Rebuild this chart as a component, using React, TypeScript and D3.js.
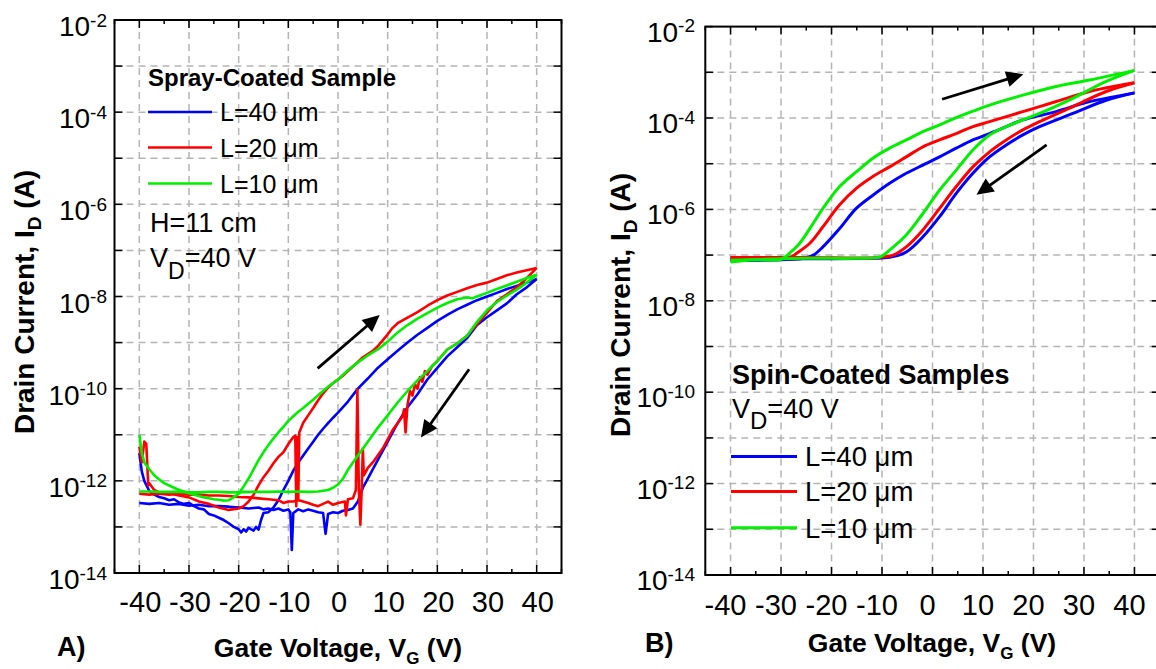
import React from 'react';
import * as d3 from 'd3';

type Pt = [number, number];

// ---------------- Spray-coated sample (panel A) ----------------
const sprayL40Fwd: Pt[] = [
  [-40, 3.98e-12], [-39.5, 1.58e-12], [-39, 1.0e-12], [-38, 6.03e-13], [-37, 5.01e-13], [-36, 4.47e-13],
  [-35, 4.17e-13], [-34, 3.8e-13], [-33, 3.98e-13], [-32, 3.39e-13], [-31, 3.16e-13], [-30, 3.31e-13],
  [-29, 2.82e-13], [-28, 2.51e-13], [-27, 2.4e-13], [-26, 1.91e-13], [-25, 1.78e-13], [-24, 1.58e-13],
  [-23, 1.41e-13], [-22, 1.2e-13], [-21, 1.0e-13], [-20, 8.91e-14], [-19.5, 7.59e-14], [-19, 8.91e-14],
  [-18.5, 7.94e-14], [-18, 9.55e-14], [-17, 8.32e-14], [-16.5, 1.0e-13], [-16, 8.71e-14], [-15.5, 1.41e-13],
  [-15, 2.0e-13], [-14, 2.09e-13], [-13, 2.63e-13], [-12, 3.8e-13], [-11, 6.31e-13], [-10, 1.0e-12],
  [-9, 1.66e-12], [-8, 2.51e-12], [-7, 3.55e-12], [-6, 5.01e-12], [-5, 7.08e-12], [-4, 1.0e-11],
  [-3, 1.35e-11], [-2, 1.78e-11], [-1, 2.34e-11], [0, 3.02e-11], [2, 5.25e-11], [4, 1.0e-10],
  [6, 1.66e-10], [8, 2.82e-10], [10, 4.37e-10], [12, 6.61e-10], [14, 1.0e-9], [16, 1.48e-9],
  [18, 2.09e-9], [20, 2.95e-9], [22, 3.98e-9], [24, 5.25e-9], [26, 6.61e-9], [28, 8.32e-9],
  [30, 1.0e-8], [32, 1.2e-8], [34, 1.45e-8], [36, 1.7e-8], [38, 2.0e-8], [40, 2.4e-8],
];
const sprayL40Rev: Pt[] = [
  [40, 2.4e-8], [38, 1.58e-8], [36, 1.12e-8], [34, 7.08e-9], [32, 5.01e-9], [30, 3.55e-9], [28, 2.4e-9],
  [26, 1.26e-9], [24, 7.94e-10], [22, 5.01e-10], [20, 2.82e-10], [18, 1.58e-10], [16, 7.59e-11],
  [14, 3.98e-11], [12, 1.78e-11], [10, 7.08e-12], [8, 2.82e-12], [6, 1.12e-12], [5, 7.08e-13],
  [4, 3.55e-13], [3, 2.51e-13], [2, 2.34e-13], [1, 2.24e-13], [0, 2.0e-13], [-1, 2.09e-13],
  [-2, 1.91e-13], [-2.5, 7.08e-14], [-3, 2.0e-13], [-4, 2.09e-13], [-5, 2.24e-13], [-6, 2.4e-13],
  [-7, 2.19e-13], [-8, 2.4e-13], [-9, 2.0e-13], [-9.3, 3.16e-14], [-9.6, 2.09e-13], [-10, 2.4e-13],
  [-11, 2.24e-13], [-12, 2.51e-13], [-13, 2.34e-13], [-14, 2.51e-13], [-15, 2.4e-13], [-16, 2.63e-13],
  [-18, 2.51e-13], [-20, 2.63e-13], [-22, 2.75e-13], [-24, 2.82e-13], [-26, 2.82e-13], [-28, 3.02e-13],
  [-30, 2.88e-13], [-32, 3.16e-13], [-34, 3.02e-13], [-36, 3.31e-13], [-38, 3.16e-13], [-40, 3.31e-13],
];
const sprayL20Fwd: Pt[] = [
  [-40, 5.5e-12], [-39.5, 2.51e-12], [-39, 7.08e-12], [-38.6, 6.31e-12], [-38.2, 7.94e-13], [-38, 8.91e-13],
  [-37, 6.31e-13], [-36, 5.62e-13], [-34, 5.37e-13], [-32, 4.79e-13], [-30, 4.37e-13], [-28, 3.55e-13],
  [-26, 3.16e-13], [-24, 2.63e-13], [-22, 2.34e-13], [-20, 2.51e-13], [-19, 2.82e-13], [-18, 3.55e-13],
  [-17, 5.01e-13], [-16, 7.94e-13], [-15, 1.2e-12], [-14, 1.66e-12], [-13, 2.4e-12], [-12, 3.31e-12],
  [-11, 4.17e-12], [-10, 6.31e-12], [-9, 8.91e-12], [-8.6, 9.55e-12], [-8.4, 2.82e-13], [-8.2, 8.91e-12],
  [-8, 3.98e-13], [-7.8, 1.12e-11], [-7, 1.82e-11], [-6, 2.63e-11], [-5, 3.8e-11], [-4, 5.62e-11],
  [-3, 7.94e-11], [-2, 1.05e-10], [-1, 1.32e-10], [0, 1.58e-10], [1, 1.91e-10], [2, 2.4e-10],
  [3, 3.02e-10], [4, 3.8e-10], [5, 4.79e-10], [6, 5.62e-10], [7, 6.61e-10], [8, 8.32e-10], [9, 1.12e-9],
  [10, 1.51e-9], [11, 2.09e-9], [12, 2.63e-9], [14, 3.47e-9], [16, 4.57e-9], [18, 6.31e-9], [20, 8.32e-9],
  [22, 1.05e-8], [24, 1.26e-8], [26, 1.51e-8], [28, 1.78e-8], [30, 2.0e-8], [32, 2.4e-8], [34, 2.88e-8],
  [36, 3.31e-8], [38, 3.72e-8], [40, 4.17e-8],
];
const sprayL20Rev: Pt[] = [
  [40, 4.17e-8], [38, 2.51e-8], [36, 1.58e-8], [34, 1.12e-8], [32, 7.94e-9], [30, 4.47e-9], [28, 2.51e-9],
  [26, 1.41e-9], [24, 9.55e-10], [22, 7.08e-10], [20, 3.98e-10], [19, 3.16e-10], [18, 2.0e-10],
  [17.5, 2.4e-10], [17, 1.41e-10], [16.5, 1.78e-10], [16, 1.0e-10], [15.5, 1.26e-10], [15, 7.08e-11],
  [14.5, 8.91e-11], [14, 4.47e-11], [13.6, 1.12e-11], [13.3, 3.55e-11], [13, 2.51e-11], [12, 1.78e-11],
  [11, 1.26e-11], [10, 7.94e-12], [9, 5.01e-12], [8, 3.55e-12], [7, 2.51e-12], [6, 1.91e-12],
  [5.2, 1.32e-12], [5, 5.01e-12], [4.8, 7.94e-13], [4.5, 1.12e-13], [4.2, 6.31e-13], [3.9, 9.55e-11],
  [3.6, 6.31e-13], [3, 4.17e-13], [2, 3.98e-13], [1.6, 1.78e-13], [1.4, 3.55e-13], [0, 3.31e-13],
  [-1, 3.02e-13], [-2, 3.55e-13], [-3, 3.16e-13], [-4, 2.82e-13], [-5, 3.02e-13], [-6, 3.31e-13],
  [-7, 3.55e-13], [-8, 3.8e-13], [-9, 3.55e-13], [-10, 3.55e-13], [-11, 3.31e-13], [-12, 3.8e-13],
  [-14, 3.98e-13], [-16, 4.17e-13], [-18, 4.37e-13], [-20, 4.47e-13], [-22, 4.68e-13], [-24, 4.79e-13],
  [-26, 4.79e-13], [-28, 5.01e-13], [-30, 5.01e-13], [-32, 5.25e-13], [-34, 5.01e-13], [-36, 5.25e-13],
  [-38, 5.01e-13], [-40, 5.25e-13],
];
const sprayL10Fwd: Pt[] = [
  [-40, 1.0e-11], [-39.5, 3.98e-12], [-39, 2.51e-12], [-38, 1.78e-12], [-37, 1.32e-12], [-36, 1.07e-12],
  [-35, 8.91e-13], [-34, 7.94e-13], [-33, 7.08e-13], [-32, 6.31e-13], [-31, 5.89e-13], [-30, 5.37e-13],
  [-29, 5.01e-13], [-28, 4.68e-13], [-27, 4.37e-13], [-26, 4.17e-13], [-25, 3.98e-13], [-24, 3.89e-13],
  [-23, 3.72e-13], [-22, 3.8e-13], [-21, 4.37e-13], [-20, 5.25e-13], [-19, 7.59e-13], [-18, 1.12e-12],
  [-17, 1.78e-12], [-16, 2.82e-12], [-15, 4.17e-12], [-14, 6.03e-12], [-13, 8.32e-12], [-12, 1.12e-11],
  [-11, 1.48e-11], [-10, 2.0e-11], [-9, 2.51e-11], [-8, 3.16e-11], [-7, 3.8e-11], [-6, 4.68e-11],
  [-5, 5.75e-11], [-4, 7.24e-11], [-3, 8.91e-11], [-2, 1.1e-10], [-1, 1.32e-10], [0, 1.58e-10],
  [2, 2.51e-10], [4, 3.72e-10], [6, 5.25e-10], [8, 7.08e-10], [10, 1.05e-9], [12, 1.66e-9], [14, 2.4e-9],
  [16, 3.31e-9], [18, 4.37e-9], [20, 5.75e-9], [22, 7.24e-9], [24, 8.71e-9], [26, 9.55e-9], [27, 9.12e-9],
  [28, 1.0e-8], [30, 1.2e-8], [32, 1.45e-8], [34, 1.74e-8], [36, 2.09e-8], [38, 2.51e-8], [40, 2.95e-8],
];
const sprayL10Rev: Pt[] = [
  [40, 2.95e-8], [38, 2.0e-8], [36, 1.41e-8], [34, 1.05e-8], [32, 7.59e-9], [30, 5.01e-9], [28, 2.82e-9],
  [26, 1.41e-9], [24, 9.55e-10], [22, 7.08e-10], [20, 3.98e-10], [18, 2.4e-10], [16, 1.51e-10],
  [14, 8.91e-11], [12, 5.01e-11], [10, 2.63e-11], [8, 1.41e-11], [6, 7.08e-12], [4, 3.55e-12],
  [2, 1.74e-12], [1, 1.12e-12], [0, 8.32e-13], [-1, 7.08e-13], [-2, 6.31e-13], [-4, 5.89e-13],
  [-6, 5.75e-13], [-8, 5.89e-13], [-10, 5.75e-13], [-12, 5.89e-13], [-14, 5.75e-13], [-16, 5.75e-13],
  [-18, 5.75e-13], [-20, 5.62e-13], [-22, 5.62e-13], [-24, 5.75e-13], [-26, 5.75e-13], [-28, 5.62e-13],
  [-30, 5.62e-13], [-32, 5.75e-13], [-34, 5.75e-13], [-36, 5.75e-13], [-38, 5.89e-13], [-40, 5.89e-13],
];

// ---------------- Spin-coated samples (panel B) ----------------
const spinL40Fwd: Pt[] = [
  [-40, 7.59e-8], [-30, 7.94e-8], [-25.6, 8.51e-8], [-23.6, 1.0e-7], [-21.7, 1.51e-7], [-18.4, 3.8e-7],
  [-15.1, 1.05e-6], [-11.8, 2.04e-6], [-8.5, 3.72e-6], [-5.2, 6.17e-6], [-1.9, 9.33e-6], [1.4, 1.41e-5],
  [4.7, 2.19e-5], [8, 3.31e-5], [11.3, 4.57e-5], [14.6, 6.46e-5], [17.9, 9.12e-5], [24.5, 1.38e-4],
  [31.1, 2.29e-4], [40, 3.55e-4],
];
const spinL40Rev: Pt[] = [
  [40, 3.55e-4], [34.4, 2.45e-4], [27.8, 1.26e-4], [21.2, 6.46e-5], [17.9, 4.27e-5], [14.6, 2.57e-5],
  [11.3, 1.41e-5], [8, 6.17e-6], [4.7, 2.24e-6], [1.4, 6.92e-7], [-1.9, 2.51e-7], [-5.2, 1.17e-7],
  [-8.5, 8.91e-8], [-11.8, 8.51e-8], [-25, 8.32e-8], [-40, 7.94e-8],
];
const spinL20Fwd: Pt[] = [
  [-40, 8.91e-8], [-30, 8.91e-8], [-28, 9.12e-8], [-26.9, 1.1e-7], [-24.3, 1.82e-7], [-21.7, 4.17e-7],
  [-18.4, 1.26e-6], [-15.1, 2.88e-6], [-11.8, 5.25e-6], [-8.5, 8.51e-6], [-5.2, 1.41e-5], [-1.9, 2.34e-5],
  [1.4, 3.31e-5], [4.7, 4.57e-5], [8, 6.46e-5], [11.3, 8.32e-5], [17.9, 1.38e-4], [24.5, 2.29e-4],
  [31.1, 3.8e-4], [40, 5.89e-4],
];
const spinL20Rev: Pt[] = [
  [40, 5.89e-4], [34.4, 3.8e-4], [27.8, 1.78e-4], [21.2, 8.32e-5], [17.9, 5.5e-5], [14.6, 3.31e-5],
  [11.3, 1.82e-5], [8, 8.51e-6], [4.7, 3.16e-6], [1.4, 1.05e-6], [-1.9, 3.55e-7], [-5.2, 1.51e-7],
  [-7.8, 1.0e-7], [-10.4, 8.91e-8], [-25, 8.91e-8], [-40, 8.91e-8],
];
const spinL10Fwd: Pt[] = [
  [-40, 7.76e-8], [-35, 7.94e-8], [-30, 8.13e-8], [-28.3, 1.1e-7], [-26.3, 1.82e-7], [-24.3, 3.8e-7],
  [-21.7, 1.05e-6], [-18.4, 3.16e-6], [-15.1, 6.61e-6], [-11.8, 1.32e-5], [-8.5, 2.19e-5], [-5.2, 3.31e-5],
  [-1.9, 5.01e-5], [1.4, 7.08e-5], [4.7, 1.02e-4], [8, 1.41e-4], [11.3, 1.91e-4], [17.9, 3.16e-4],
  [24.5, 4.9e-4], [31.1, 6.76e-4], [40, 1.1e-3],
];
const spinL10Rev: Pt[] = [
  [40, 1.1e-3], [34.4, 6.31e-4], [27.8, 2.69e-4], [21.2, 1.26e-4], [17.9, 9.12e-5], [14.6, 6.46e-5],
  [11.3, 4.27e-5], [8, 2.0e-5], [4.7, 7.24e-6], [1.4, 2.63e-6], [-1.9, 8.13e-7], [-5.2, 2.75e-7],
  [-8.5, 1.29e-7], [-10.4, 9.12e-8], [-15.1, 8.51e-8], [-25, 8.51e-8], [-35, 7.94e-8], [-40, 7.08e-8],
];

// ---------------- Axes / labels ----------------
const xDomain: [number, number] = [-45, 45];
const yDomain: [number, number] = [1e-14, 1e-2];
const xTickValues = [-40, -30, -20, -10, 0, 10, 20, 30, 40];
const xMinorValues = [-45, -35, -25, -15, -5, 5, 15, 25, 35, 45];
const yLabelExponents = [-2, -4, -6, -8, -10, -12, -14];
const legendLabels = ['L=40 \u03bcm', 'L=20 \u03bcm', 'L=10 \u03bcm'];
const seriesColors = ['#0000ff', '#ff0000', '#00f000'];

// arrows (data units): [from, to]
const sprayArrows: [Pt, Pt][] = [
  [[-4.1, 2.75e-10], [8.4, 3.98e-9]],
  [[26.4, 2.63e-10], [16.7, 8.71e-12]],
];
const spinArrows: [Pt, Pt][] = [
  [[1.9, 2.57e-4], [18.0, 9.12e-4]],
  [[22.6, 2.57e-5], [8.7, 2.09e-6]],
];

const FONT = "'Liberation Sans', Arial, Helvetica, sans-serif";

interface Box { x0: number; x1: number; y0: number; y1: number }

function Arrow({ x1, y1, x2, y2 }: { x1: number; y1: number; x2: number; y2: number }) {
  const a = Math.atan2(y2 - y1, x2 - x1);
  const L = 17, W = 8;
  const bx = x2 - L * Math.cos(a), by = y2 - L * Math.sin(a);
  const px = -Math.sin(a) * W, py = Math.cos(a) * W;
  return (
    <g>
      <line x1={x1} y1={y1} x2={bx + 2 * Math.cos(a)} y2={by + 2 * Math.sin(a)} stroke="#000" strokeWidth={2.8} />
      <polygon points={`${x2},${y2} ${bx + px},${by + py} ${bx - px},${by - py}`} fill="#000" />
    </g>
  );
}

function Panel(props: {
  box: Box;
  series: Pt[][][];
  lw: number;
  smooth: boolean;
  arrows: [Pt, Pt][];
  labelRight: number;
  yLabelDrop: number;
  xLabelBaseline: number;
  xLabelDx: number;
}) {
  const { box, series, lw, smooth, arrows, labelRight, yLabelDrop, xLabelBaseline, xLabelDx } = props;
  const x = d3.scaleLinear().domain(xDomain).range([box.x0, box.x1]);
  const y = d3.scaleLog().domain(yDomain).range([box.y1, box.y0]);
  const line = d3
    .line<Pt>()
    .x((d) => x(d[0]))
    .y((d) => y(d[1]))
    .curve(smooth ? d3.curveCatmullRom.alpha(0.5) : d3.curveLinear);

  const logTicks = y.ticks();
  const isDecade = (t: number) => Math.abs(Math.log10(t) - Math.round(Math.log10(t))) < 1e-6;
  const decades = logTicks.filter(isDecade);
  const minors = logTicks.filter((t) => !isDecade(t));
  const grid = '#b5b5b5';
  const MAJ = 8, MIN = 4;

  return (
    <g>
      {xTickValues.map((v) => (
        <line key={'gx' + v} x1={x(v)} x2={x(v)} y1={box.y0} y2={box.y1} stroke={grid} strokeWidth={1.5} strokeDasharray="7 5" />
      ))}
      {decades
        .filter((t) => t > yDomain[0] * 1.01 && t < yDomain[1] * 0.99)
        .map((t) => (
          <line key={'gy' + t} x1={box.x0} x2={box.x1} y1={y(t)} y2={y(t)} stroke={grid} strokeWidth={1.5} strokeDasharray="7 5" />
        ))}
      {series.map((pair, ci) =>
        pair.map((s, k) => (
          <path key={`s${ci}-${k}`} d={line(s) || ''} fill="none" stroke={seriesColors[ci]} strokeWidth={lw} strokeLinejoin="round" />
        ))
      )}
      {xTickValues.map((v) => (
        <g key={'tx' + v}>
          <line x1={x(v)} x2={x(v)} y1={box.y1} y2={box.y1 - MAJ} stroke="#000" strokeWidth={1.5} />
          <line x1={x(v)} x2={x(v)} y1={box.y0} y2={box.y0 + MAJ} stroke="#000" strokeWidth={1.5} />
        </g>
      ))}
      {xMinorValues.map((v) => (
        <g key={'mx' + v}>
          <line x1={x(v)} x2={x(v)} y1={box.y1} y2={box.y1 - MIN} stroke="#000" strokeWidth={1.5} />
          <line x1={x(v)} x2={x(v)} y1={box.y0} y2={box.y0 + MIN} stroke="#000" strokeWidth={1.5} />
        </g>
      ))}
      {decades.map((t) => (
        <g key={'ty' + t}>
          <line x1={box.x0} x2={box.x0 + MAJ} y1={y(t)} y2={y(t)} stroke="#000" strokeWidth={1.5} />
          <line x1={box.x1} x2={box.x1 - MAJ} y1={y(t)} y2={y(t)} stroke="#000" strokeWidth={1.5} />
        </g>
      ))}
      {minors.map((t) => (
        <g key={'my' + t}>
          <line x1={box.x0} x2={box.x0 + MIN} y1={y(t)} y2={y(t)} stroke="#000" strokeWidth={1.2} />
          <line x1={box.x1} x2={box.x1 - MIN} y1={y(t)} y2={y(t)} stroke="#000" strokeWidth={1.2} />
        </g>
      ))}
      <rect x={box.x0} y={box.y0} width={box.x1 - box.x0} height={box.y1 - box.y0} fill="none" stroke="#000" strokeWidth={2} />
      {xTickValues.map((v) => (
        <text key={'lx' + v} x={x(v) + xLabelDx} y={xLabelBaseline} textAnchor="middle" fontFamily={FONT} fontSize={29} fill="#000">
          {String(v)}
        </text>
      ))}
      {yLabelExponents.map((e) => (
        <text key={'ly' + e} x={labelRight} y={y(Math.pow(10, e)) + yLabelDrop} textAnchor="end" fontFamily={FONT} fontSize={28} fill="#000">
          10
          <tspan dy={-9.5} fontSize={19}>
            {String(e)}
          </tspan>
        </text>
      ))}
      {arrows.map((a, i) => (
        <Arrow key={'ar' + i} x1={x(a[0][0])} y1={y(a[0][1])} x2={x(a[1][0])} y2={y(a[1][1])} />
      ))}
    </g>
  );
}

function Legend({ x0, x1, ys, textX, fontSize, lw }: { x0: number; x1: number; ys: number[]; textX: number; fontSize: number; lw: number }) {
  return (
    <g>
      {legendLabels.map((lab, i) => (
        <g key={lab}>
          <line x1={x0} x2={x1} y1={ys[i]} y2={ys[i]} stroke={seriesColors[i]} strokeWidth={lw} />
          <text x={textX} y={ys[i] + fontSize * 0.36} fontFamily={FONT} fontSize={fontSize} fill="#000">
            {lab}
          </text>
        </g>
      ))}
    </g>
  );
}

export default function App() {
  const boxA: Box = { x0: 114.5, x1: 561.5, y0: 20, y1: 573 };
  const boxB: Box = { x0: 705.3, x1: 1159.7, y0: 26.6, y1: 575 };
  return (
    <svg width={1156} height={669} style={{ position: 'absolute', left: 0, top: 0, background: '#fff' }}>
      <rect x={0} y={0} width={1156} height={669} fill="#fff" />
      <Panel
        box={boxA}
        series={[[sprayL40Fwd, sprayL40Rev], [sprayL20Fwd, sprayL20Rev], [sprayL10Fwd, sprayL10Rev]]}
        lw={2.6}
        smooth={false}
        arrows={sprayArrows}
        labelRight={107}
        yLabelDrop={16}
        xLabelBaseline={612}
        xLabelDx={1}
      />
      <Panel
        box={boxB}
        series={[[spinL40Fwd, spinL40Rev], [spinL20Fwd, spinL20Rev], [spinL10Fwd, spinL10Rev]]}
        lw={3}
        smooth={true}
        arrows={spinArrows}
        labelRight={695}
        yLabelDrop={15}
        xLabelBaseline={615}
        xLabelDx={-5}
      />

      {/* Panel A annotations */}
      <text x={148} y={86} fontFamily={FONT} fontSize={24} fontWeight="bold">Spray-Coated Sample</text>
      <Legend x0={148} x1={212} ys={[112, 147.5, 183.5]} textX={220} fontSize={25} lw={2.6} />
      <text x={150} y={232} fontFamily={FONT} fontSize={27}>H=11 cm</text>
      <text x={150} y={267} fontFamily={FONT} fontSize={27}>
        V<tspan dy={12} fontSize={23}>D</tspan>
        <tspan dy={-12}>=40 V</tspan>
      </text>

      {/* Panel B annotations */}
      <text x={732} y={384} fontFamily={FONT} fontSize={27} fontWeight="bold">Spin-Coated Samples</text>
      <text x={732} y={418} fontFamily={FONT} fontSize={27}>
        V<tspan dy={11} fontSize={24}>D</tspan>
        <tspan dy={-11}>=40 V</tspan>
      </text>
      <Legend x0={731} x1={797} ys={[456.5, 491.5, 527.7]} textX={805} fontSize={27.5} lw={3} />

      {/* axis titles */}
      <text x={338} y={657} textAnchor="middle" fontFamily={FONT} fontSize={26.5} fontWeight="bold">
        Gate Voltage, V<tspan dy={7} fontSize={17}>G</tspan>
        <tspan dy={-7}> (V)</tspan>
      </text>
      <text x={932} y={652} textAnchor="middle" fontFamily={FONT} fontSize={26.5} fontWeight="bold">
        Gate Voltage, V<tspan dy={7} fontSize={17}>G</tspan>
        <tspan dy={-7}> (V)</tspan>
      </text>
      <text transform="translate(34,302) rotate(-90)" textAnchor="middle" fontFamily={FONT} fontSize={28} fontWeight="bold">
        Drain Current, I<tspan dy={7} fontSize={19}>D</tspan>
        <tspan dy={-7}> (A)</tspan>
      </text>
      <text transform="translate(630,305) rotate(-90)" textAnchor="middle" fontFamily={FONT} fontSize={28} fontWeight="bold">
        Drain Current, I<tspan dy={7} fontSize={19}>D</tspan>
        <tspan dy={-7}> (A)</tspan>
      </text>

      <text x={57} y={656} fontFamily={FONT} fontSize={27} fontWeight="bold">A)</text>
      <text x={645} y={652} fontFamily={FONT} fontSize={27} fontWeight="bold">B)</text>
    </svg>
  );
}
